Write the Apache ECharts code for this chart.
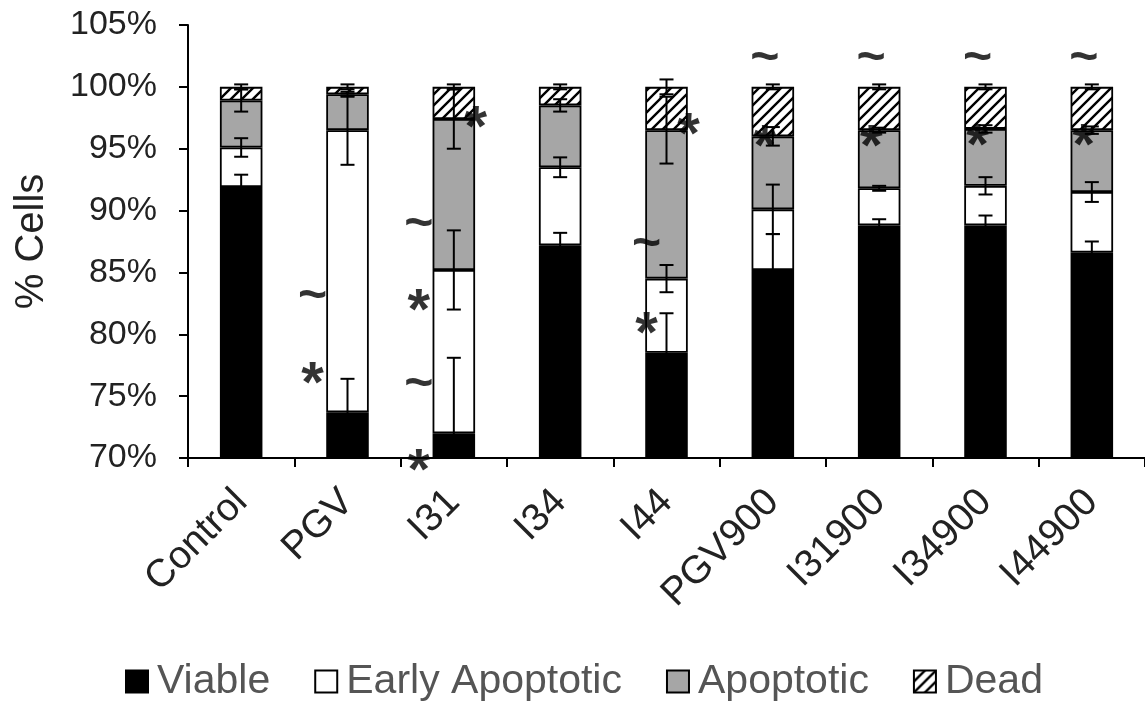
<!DOCTYPE html>
<html><head><meta charset="utf-8">
<script src="https://cdn.jsdelivr.net/npm/echarts@6/dist/echarts.min.js"></script>
<style>html,body{margin:0;padding:0;background:#fff}#c{width:1145px;height:702px}</style>
</head><body><div id="c"></div>
<script>
// ---- data ----
const categories = ['Control','PGV','I31','I34','I44','PGV900','I31900','I34900','I44900'];
const seriesNames = ['Viable','Early Apoptotic','Apoptotic','Dead'];
const viable    = [91.9, 73.7, 72.0, 87.2, 78.5, 85.2, 88.8, 88.8, 86.6];
const early     = [3.2, 22.8, 13.2, 6.3, 6.0, 4.9, 3.0, 3.2, 4.9];
const apoptotic = [3.8, 2.9, 12.2, 5.0, 12.0, 5.9, 4.7, 4.6, 5.0];
const dead      = [1.1, 0.6, 2.6, 1.5, 3.5, 4.0, 3.5, 3.4, 3.5];
const viableErr = [1.0, 2.7, 6.1, 1.0, 3.2, 2.9, 0.5, 0.8, 0.9];
const earlyErr  = [0.75, 2.8, 3.2, 0.8, 1.1, 2.0, 0.2, 0.7, 0.8];
const apopErr   = [0.9, 0.2, 2.4, 0.5, 2.7, 0.75, 0.2, 0.3, 0.3];
const deadErr   = [0.2, 0.2, 0.2, 0.2, 0.6, 0.2, 0.2, 0.2, 0.2];
const yTicks = {min: 70, max: 105, interval: 5};
// significance marks
const annCat  = ['PGV','PGV','I31','I31','I31','I31','I31','I44','I44','I44',
                 'PGV900','PGV900','I31900','I31900','I34900','I34900','I44900','I44900'];
const annVal  = [83.0, 76.9, 88.8, 82.8, 75.9, 69.8, 97.6, 87.2, 80.9, 97.0,
                 102.2, 96.0, 102.2, 96.0, 102.2, 96.1, 102.2, 96.1];
const annText = ['~','*','~','*','~','*','*','~','*','*',
                 '~','*','~','*','~','*','~','*'];
const annSide = ['left','left','left','left','left','left','right','edge','edge','right',
                 'top','top','top','top','top','top','top','top'];

// ---- styling helpers ----
function hatchCanvas(){
  const s = 11, c = document.createElement('canvas');
  c.width = s; c.height = s;
  const g = c.getContext('2d');
  g.fillStyle = '#fff'; g.fillRect(0,0,s,s);
  g.strokeStyle = '#000'; g.lineWidth = 2.4;
  g.beginPath();
  g.moveTo(0,s); g.lineTo(s,0);
  g.moveTo(-s/2,s/2); g.lineTo(s/2,-s/2);
  g.moveTo(s/2,s*1.5); g.lineTo(s*1.5,s/2);
  g.stroke();
  return c;
}
const fills = ['#000000','#ffffff','#a6a6a6',{image: hatchCanvas(), repeat:'repeat'}];
const valueSets = [viable, early, apoptotic, dead];
const errSets = [viableErr, earlyErr, apopErr, deadErr];

const barSeries = seriesNames.map((n,k)=>({
  name:n, type:'bar', stack:'all', barWidth:'40%',
  data: valueSets[k],
  itemStyle:{color: fills[k], borderColor:'#000', borderWidth:1.8},
  emphasis:{disabled:true}, z:2
}));

// error bar data: [categoryIndex, segmentTop, err]
const errData = [];
categories.forEach((c,i)=>{
  let cum = 0;
  for(let k=0;k<4;k++){
    cum += valueSets[k][i];
    errData.push([i, cum, errSets[k][i]]);
  }
});
const errSeries = {
  type:'custom', name:'err', z:5, silent:true,
  data: errData,
  renderItem(params, api){
    const x = api.value(0), top = api.value(1), e = api.value(2);
    const hi = api.coord([x, top + e]);
    const lo = api.coord([x, Math.max(top - e, yTicks.min)]);
    const cap = 7, st = {stroke:'#000', lineWidth:2};
    const ch = [
      {type:'line', shape:{x1:hi[0],y1:hi[1],x2:lo[0],y2:lo[1]}, style:st},
      {type:'line', shape:{x1:hi[0]-cap,y1:hi[1],x2:hi[0]+cap,y2:hi[1]}, style:st}
    ];
    if (top - e >= yTicks.min) ch.push({type:'line', shape:{x1:lo[0]-cap,y1:lo[1],x2:lo[0]+cap,y2:lo[1]}, style:st});
    return {type:'group', children: ch};
  }
};

const sideOffset = {left:[-35,0], edge:[-20,0], right:[22,0], top:[-8,0]};
const glyphStyle = {
  '~': {fontSize:50, fontWeight:'bold', dy:0},
  '*': {fontSize:58, fontWeight:'bold', dy:13}
};
const annData = annCat.map((c,i)=>{
  const off = sideOffset[annSide[i]].slice();
  const gs = glyphStyle[annText[i]];
  off[1] += gs.dy;
  return {value:[c, annVal[i]], label:{formatter: annText[i], offset: off,
          fontSize: gs.fontSize, fontWeight: gs.fontWeight}};
});
const annSeries = {
  type:'scatter', name:'marks', symbolSize:0, clip:false, silent:true, z:6,
  data: annData,
  label:{show:true, position:'inside', color:'#000',
         fontFamily:'Liberation Sans, Arial, sans-serif'}
};

const chart = echarts.init(document.getElementById('c'), null, {renderer:'canvas'});
chart.setOption({
  animation:false,
  textStyle:{fontFamily:'Liberation Sans, Arial, sans-serif'},
  grid:{left:188, top:25, width:967, bottom:244, containLabel:false},
  legend:{
    data: seriesNames, left:120, top:656, icon:'rect',
    itemWidth:22, itemHeight:22, itemGap:44,
    textStyle:{fontSize:41, color:'#555', padding:[0,0,0,4]},
    itemStyle:{borderColor:'#000', borderWidth:2}
  },
  xAxis:{
    type:'category', data: categories, boundaryGap:true,
    axisLine:{lineStyle:{color:'#000', width:2}},
    axisTick:{show:true, length:9, lineStyle:{color:'#000', width:2}},
    axisLabel:{rotate:45, fontSize:39, color:'#222', margin:38, interval:0}
  },
  yAxis:{
    type:'value', min:yTicks.min, max:yTicks.max, interval:yTicks.interval,
    name:'% Cells', nameLocation:'middle', nameGap:136,
    nameTextStyle:{fontSize:40, color:'#222'},
    splitLine:{show:false},
    axisLine:{show:true, lineStyle:{color:'#000', width:2}},
    axisTick:{show:true, length:9, lineStyle:{color:'#000', width:2}},
    axisLabel:{fontSize:34, color:'#222', margin:31, formatter: v => v + '%'}
  },
  series:[...barSeries, errSeries, annSeries]
});
</script></body></html>
